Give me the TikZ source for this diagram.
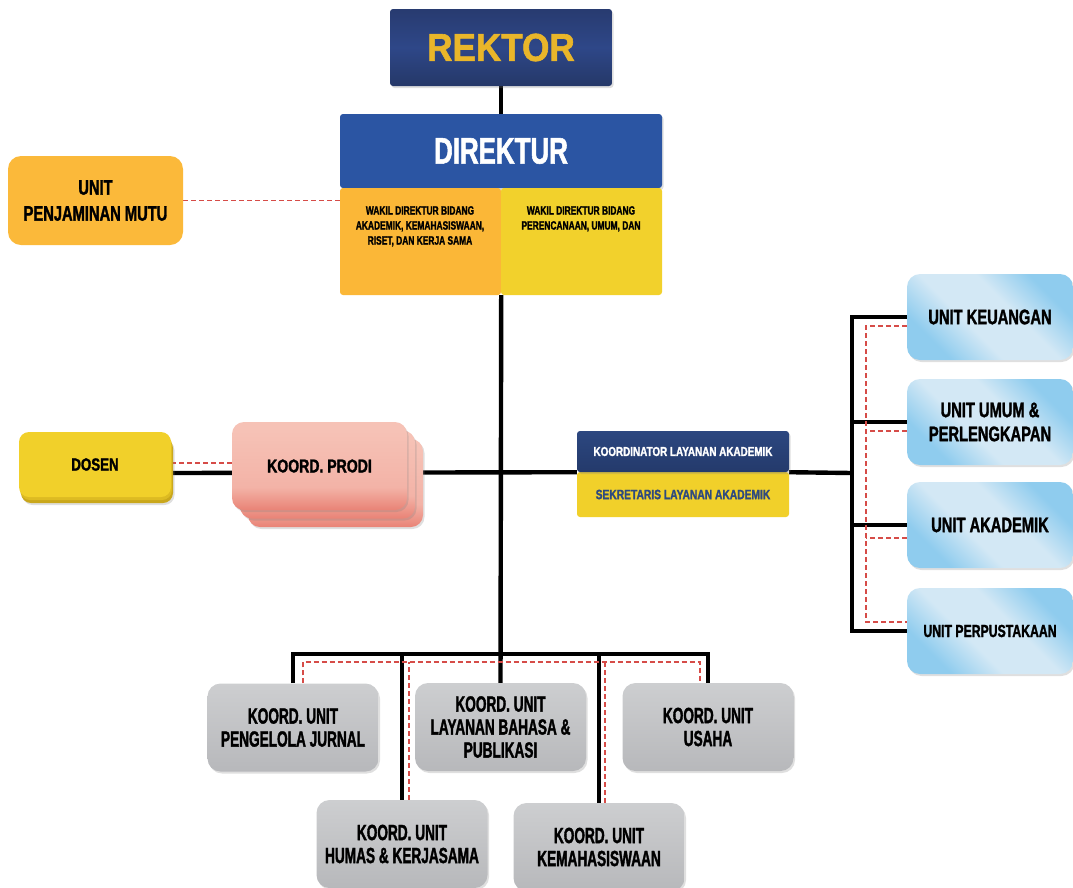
\documentclass[tikz,border=0pt]{standalone}
\usepackage{fontspec}
\usetikzlibrary{shadows,backgrounds}
\newfontfamily\fA{Liberation Sans}[FakeStretch=0.62,FakeBold=1.5]
\newfontfamily\fB{Liberation Sans}[FakeStretch=0.70,FakeBold=1.5]
\newfontfamily\fC{Liberation Sans}[FakeStretch=0.76,FakeBold=1.5]
\newfontfamily\fR{Liberation Sans}[FakeStretch=0.90,FakeBold=1.5]
\definecolor{navyT}{HTML}{283B70}
\definecolor{navyM}{HTML}{2E4788}
\definecolor{navyB}{HTML}{253868}
\definecolor{rkYellow}{HTML}{E9B62A}
\definecolor{dirBlue}{HTML}{2B55A3}
\definecolor{orangeW}{HTML}{FBB737}
\definecolor{yellowW}{HTML}{F2D12C}
\definecolor{pmOrange}{HTML}{FBB93A}
\definecolor{dsY}{HTML}{F1D02A}
\definecolor{dsY1}{HTML}{DDBB22}
\definecolor{dsY2}{HTML}{C9A71C}
\definecolor{pkT}{HTML}{F6C2B6}
\definecolor{pkM}{HTML}{F3B3A7}
\definecolor{pkB}{HTML}{E98376}
\definecolor{kNavyT}{HTML}{2C4780}
\definecolor{kNavyB}{HTML}{243A6B}
\definecolor{skText}{HTML}{2E4A7F}
\definecolor{uLight}{HTML}{D3E8F5}
\definecolor{uDark}{HTML}{8FCCEE}
\definecolor{grT}{HTML}{CDCED0}
\definecolor{grB}{HTML}{B7B8BB}
\definecolor{redDash}{HTML}{D64C48}
\pgfdeclarehorizontalshading{bluediag}{100bp}{color(0bp)=(uDark); color(27bp)=(uDark); color(42bp)=(uLight); color(58bp)=(uLight); color(73bp)=(uDark); color(100bp)=(uDark)}
\pgfdeclareverticalshading{prodish}{100bp}{color(0bp)=(pkB); color(25bp)=(pkB); color(38bp)=(pkM); color(70bp)=(pkT); color(100bp)=(pkT)}
\tikzset{
  bl/.style={line width=4.4pt, black},
  rd/.style={line width=1.5pt, draw=redDash, dash pattern=on 5pt off 3pt},
  box/.style={draw=none, align=center, inner sep=0pt},
  softshadow/.style={drop shadow={opacity=0.25, shadow xshift=1.5pt, shadow yshift=-2pt}},
  rbox/.style={box, rounded corners=3pt, minimum width=222, minimum height=77,
    top color=navyT, bottom color=navyB, middle color=navyM, text=rkYellow, softshadow,
    font=\fR\bfseries\fontsize{39}{40}\selectfont},
  dbox/.style={box, rounded corners=3pt, minimum width=322, minimum height=74,
    fill=dirBlue, text=white, softshadow, font=\fB\bfseries\fontsize{37}{38}\selectfont},
  wbox/.style={box, rounded corners=3pt, minimum width=161, minimum height=107},
  wtext/.style={box, anchor=north, font=\fB\bfseries\fontsize{12}{15}\selectfont},
  pmbox/.style={box, rounded corners=13pt, minimum width=175, minimum height=89,
    fill=pmOrange, font=\fB\bfseries\fontsize{21}{26}\selectfont},
  dsbox/.style={box, rounded corners=10pt, minimum width=152, minimum height=65},
  pkbox/.style={box, rounded corners=12pt, minimum width=175, minimum height=88,
    shading=prodish, softshadow},
  kbox/.style={box, rounded corners=3pt, minimum width=212},
  ubox/.style={box, rounded corners=13pt, minimum width=166, minimum height=86,
    shading=bluediag, shading angle=45, softshadow,
    font=\fB\bfseries\fontsize{21}{24}\selectfont},
  gbox/.style={box, rounded corners=13pt, minimum width=171, minimum height=88,
    top color=grT, bottom color=grB, softshadow,
    font=\fA\bfseries\fontsize{22}{23}\selectfont},
}
\begin{document}
\begin{tikzpicture}[x=1pt,y=-1pt]
\useasboundingbox (0,0) rectangle (1073,887);
% top
\node[rbox] (rektor) at (501,47.5) {REKTOR};
\node[dbox] (direktur) at (501,151) {DIREKTUR};
\node[wbox, fill=orangeW] (wakilL) at (420.5,241.5) {};
\node[wbox, fill=yellowW] (wakilR) at (581.5,241.5) {};
\node[wtext] (wakilLt) at (420,206) {WAKIL DIREKTUR BIDANG\\AKADEMIK, KEMAHASISWAAN,\\RISET, DAN KERJA SAMA};
\node[wtext] (wakilRt) at (581,206) {WAKIL DIREKTUR BIDANG\\PERENCANAAN, UMUM, DAN};
\node[pmbox] (pm) at (95.5,200.5) {UNIT\\PENJAMINAN MUTU};
% left middle
\node[dsbox, fill=dsY2, softshadow] (dosen3) at (97,470.5) {};
\node[dsbox, fill=dsY1] (dosen2) at (96,467.5) {};
\node[dsbox, fill=dsY, font=\fC\bfseries\fontsize{17.5}{19}\selectfont] (dosen) at (95,464.5) {DOSEN};
\node[pkbox] (prodi3) at (335.5,483) {};
\node[pkbox] (prodi2) at (327.5,474.5) {};
\node[pkbox, font=\fC\bfseries\fontsize{18.5}{20}\selectfont] (prodi) at (319.5,466) {KOORD. PRODI};
% koordinator
\node[kbox, minimum height=45, fill=dsY, text=skText, font=\fC\bfseries\fontsize{13.5}{15}\selectfont] (sekr) at (683,494.5) {SEKRETARIS LAYANAN AKADEMIK};
\node[kbox, minimum height=41, top color=kNavyT, bottom color=kNavyB, text=white, softshadow, font=\fC\bfseries\fontsize{13}{15}\selectfont] (koord) at (683,451.5) {KOORDINATOR LAYANAN AKADEMIK};
% right units
\node[ubox] (keu) at (990,317) {UNIT KEUANGAN};
\node[ubox] (umum) at (990,422) {UNIT UMUM \&\\PERLENGKAPAN};
\node[ubox] (aka) at (990,525) {UNIT AKADEMIK};
\node[ubox, font=\fB\bfseries\fontsize{17.5}{20}\selectfont] (pus) at (990,631) {UNIT PERPUSTAKAAN};
% bottom units
\node[gbox] (jurnal) at (293,727.5) {KOORD. UNIT\\PENGELOLA JURNAL};
\node[gbox] (layanan) at (500.5,727) {KOORD. UNIT\\LAYANAN BAHASA \&\\PUBLIKASI};
\node[gbox] (usaha) at (708,727) {KOORD. UNIT\\USAHA};
\node[gbox] (humas) at (402,844) {KOORD. UNIT\\HUMAS \& KERJASAMA};
\node[gbox] (kema) at (599,847) {KOORD. UNIT\\KEMAHASISWAAN};
% coordinates
\coordinate (hub) at (500,473);
\coordinate (bus) at (500,654);
\coordinate (rbus) at (852,473);
\coordinate (rdash) at (866,473);
\coordinate (bdash) at (500,662);
\begin{pgfonlayer}{background}
  \draw[bl] (rektor.south) -- (direktur.north);
  \draw[bl] (wakilL.south east) -- (layanan.north);
  \draw[rd] (pm.east) -- (pm.east -| wakilL.west);
  % middle horizontal
  \draw[bl] (dosen.east |- hub) -- (koord.south west);
  \draw[rd] ([yshift=1.5pt]dosen.east) -- ([yshift=3pt]prodi.west);
  \draw[bl] (koord.south east) -- (rbus);
  % right bus
  \draw[bl] (keu.west) -- (keu.west -| rbus) -- (pus.west -| rbus) -- (pus.west);
  \draw[bl] (umum.west) -- (umum.west -| rbus);
  \draw[bl] (aka.west) -- (aka.west -| rbus);
  \draw[rd] ([yshift=-9pt]keu.west) -- ([yshift=-9pt]keu.west -| rdash) -- ([yshift=9pt]pus.west -| rdash) -- ([yshift=9pt]pus.west);
  \draw[rd] ([yshift=-9pt]umum.west) -- ([yshift=-9pt]umum.west -| rdash);
  \draw[rd] ([yshift=-13pt]aka.west) -- ([yshift=-13pt]aka.west -| rdash);
  % bottom bus
  \draw[bl] (jurnal.north) -- (jurnal.north |- bus) -- (usaha.north |- bus) -- (usaha.north);
  \draw[bl] (humas.north) -- (humas.north |- bus);
  \draw[bl] (kema.north) -- (kema.north |- bus);
  \draw[rd] ([xshift=10pt]jurnal.north) -- ([xshift=10pt]jurnal.north |- bdash) -- ([xshift=-8pt]usaha.north |- bdash) -- ([xshift=-8pt]usaha.north);
  \draw[rd] ([xshift=7pt]humas.north) -- ([xshift=7pt]humas.north |- bdash);
  \draw[rd] ([xshift=6pt]kema.north) -- ([xshift=6pt]kema.north |- bdash);
\end{pgfonlayer}
\end{tikzpicture}
\end{document}
